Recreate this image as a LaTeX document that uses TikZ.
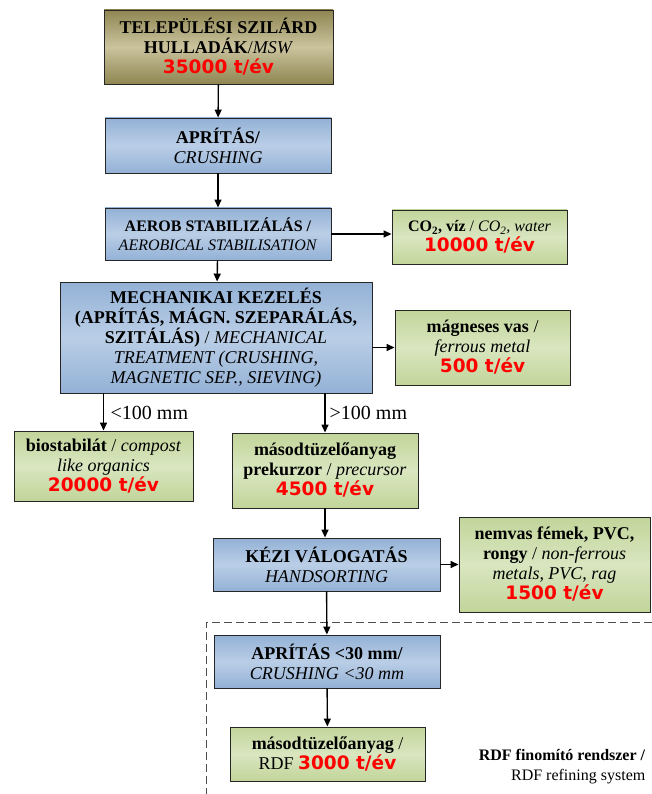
\documentclass[tikz,border=0pt]{standalone}
\usepackage{fontspec}
\setmainfont{Liberation Serif}
\newfontfamily\numfont{DejaVu Sans}
\usetikzlibrary{arrows.meta,positioning}
\definecolor{blueedge}{HTML}{93B1D6}
\definecolor{bluemid}{HTML}{BACEE6}
\definecolor{greenedge}{HTML}{C2D59A}
\definecolor{greenmid}{HTML}{D9E6C0}
\definecolor{khakiedge}{HTML}{8F8652}
\definecolor{khakimid}{HTML}{CAC39D}
\tikzstyle{flowbox}=[draw=black!85,line width=0.9pt,align=center,inner sep=0pt,font=\fontsize{18}{20}\selectfont]
\tikzstyle{process}=[flowbox,top color=blueedge,bottom color=blueedge,middle color=bluemid]
\tikzstyle{product}=[flowbox,top color=greenedge,bottom color=greenedge,middle color=greenmid]
\tikzstyle{source}=[flowbox,top color=khakiedge,bottom color=khakiedge,middle color=khakimid]
\tikzstyle{sizelabel}=[anchor=west,inner sep=0pt,font=\fontsize{20}{22}\selectfont]
\newcommand{\tev}[1]{{\numfont\bfseries\fontsize{18.5}{20}\selectfont\color{red}#1~t/év}}

\begin{document}
\begin{tikzpicture}[->,>={Triangle[length=8pt,width=7pt]},line width=1.4pt,x=1pt,y=-1pt]
  \useasboundingbox (0,0) rectangle (651,794);

  % refining system frame
  \draw[-,dash pattern=on 8pt off 4pt,line width=0.9pt,black!70] (652,622) -- (206,622) -- (206,795);

  \node[source,minimum width=229pt,minimum height=74pt]  (msw)   at (218.5,47)  {\textbf{TELEPÜLÉSI SZILÁRD}\\\textbf{HULLADÁK}/\textit{MSW}\\\tev{35000}};
  \node[process,minimum width=226pt,minimum height=55pt] (crush) at (218,145.5) {\textbf{APRÍTÁS/}\\\textit{CRUSHING}};
  \node[process,minimum width=226pt,minimum height=52pt,font=\fontsize{16}{19}\selectfont] (aerob) at (218,234) {\textbf{AEROB STABILIZÁLÁS /}\\\textit{AEROBICAL STABILISATION}};
  \node[product,minimum width=175pt,minimum height=54pt,font=\fontsize{16}{20}\selectfont] (co2) at (479.5,237) {\textbf{CO\textsubscript{2}, víz} / \textit{CO\textsubscript{2}, water}\\\tev{10000}};
  \node[process,minimum width=312pt,minimum height=111pt] (mech) at (216,337.5) {\textbf{MECHANIKAI KEZELÉS}\\\textbf{(APRÍTÁS, MÁGN. SZEPARÁLÁS,}\\\textbf{SZITÁLÁS)} / \textit{MECHANICAL}\\\textit{TREATMENT (CRUSHING,}\\\textit{MAGNETIC SEP., SIEVING)}};
  \node[product,minimum width=175pt,minimum height=75pt] (ferr) at (482.5,347.5) {\textbf{mágneses vas} /\\\textit{ferrous metal}\\\tev{500}};
  \node[product,minimum width=179pt,minimum height=70pt] (bio) at (103.5,466) {\textbf{biostabilát} / \textit{compost}\\\textit{like organics}\\\tev{20000}};
  \node[product,minimum width=186pt,minimum height=75pt] (prec) at (325,470.5) {\textbf{másodtüzelőanyag}\\\textbf{prekurzor} / \textit{precursor}\\\tev{4500}};
  \node[process,minimum width=227pt,minimum height=53pt] (hand) at (326.5,564.5) {\textbf{KÉZI VÁLOGATÁS}\\\textit{HANDSORTING}};
  \node[product,minimum width=191pt,minimum height=95pt] (nonfe) at (554.5,564.5) {\textbf{nemvas fémek, PVC,}\\\textbf{rongy} / \textit{non-ferrous}\\\textit{metals, PVC, rag}\\\tev{1500}};
  \node[process,minimum width=226pt,minimum height=53pt] (crushb) at (327,661.5) {\textbf{APRÍTÁS <30 mm/}\\\textit{CRUSHING <30 mm}};
  \node[product,minimum width=195pt,minimum height=54pt] (rdf) at (327.5,754) {\textbf{másodtüzelőanyag} /\\RDF \tev{3000}};

  \node[sizelabel] (fine)   at (110,413) {<100 mm};
  \node[sizelabel] (coarse) at (329,413) {>100 mm};
  \node[anchor=east,align=right,inner sep=0pt,font=\fontsize{16}{20}\selectfont] (sys) at (646,767) {\textbf{RDF finomító rendszer /}\\RDF refining system};

  \path (msw) edge (crush)
        (crush) edge (aerob)
        (aerob) edge (mech)
        (hand) edge (crushb)
        (crushb) edge (rdf);
  \draw (prec.south) -- (prec.south |- hand.north);
  \draw (aerob.east) -- (aerob.east -| co2.west);
  \draw (ferr.west -| mech.east) -- (ferr.west);
  \draw (hand.east) -- (nonfe.west);
  \draw (mech.south -| bio.north) -- (bio.north);
  \draw (mech.south -| prec.north) -- (prec.north);
\end{tikzpicture}
\end{document}
